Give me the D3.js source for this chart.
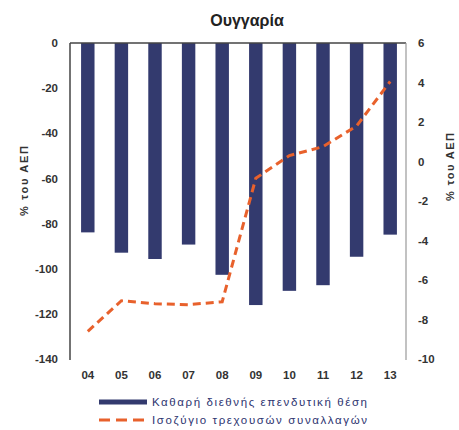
<!DOCTYPE html>
<html><head><meta charset="utf-8">
<script src="https://cdn.jsdelivr.net/npm/d3@7"></script>
<style>body{margin:0;background:#fff}svg{display:block}</style>
</head><body>
<svg id="c" width="459" height="430"></svg>
<script>
const years = ["04","05","06","07","08","09","10","11","12","13"];
const niip = [-83.9,-92.9,-95.7,-89.3,-102.7,-116.1,-109.8,-107.3,-94.7,-84.9];
const currentAccount = [-8.6,-7.05,-7.2,-7.25,-7.1,-0.85,0.3,0.75,1.8,4.05];
const leftTicks = [0,-20,-40,-60,-80,-100,-120,-140];
const rightTicks = [6,4,2,0,-2,-4,-6,-8,-10];
const title = "Ουγγαρία";
const axisLabel = "% του ΑΕΠ";
const legendLabels = ["Καθαρή διεθνής επενδυτική θέση","Ισοζύγιο τρεχουσών συναλλαγών"];

const svg = d3.select("#c");
const L = 70, R = 406, T = 43, B = 359;
const font = "Liberation Sans, Arial, sans-serif";
const barColor = "#333a6e", lineColor = "#e8612c", textColor = "#333";
const fmt = d => String(d);

const x = d3.scaleBand().domain(years).range([L+1, R+1]).paddingInner(0.6).paddingOuter(0.3);
const yL = d3.scaleLinear().domain([-140,0]).range([B,T]);
const yR = d3.scaleLinear().domain([-10,6]).range([B,T]);

svg.append("text").attr("x",247).attr("y",26).attr("text-anchor","middle")
  .attr("font-family",font).attr("font-size",16).attr("font-weight","bold").attr("fill","#222").text(title);

// bars
svg.append("g").selectAll("rect").data(niip).join("rect")
  .attr("x",(d,i)=>x(years[i])).attr("width",x.bandwidth())
  .attr("y",yL(0)).attr("height",d=>yL(d)-yL(0)).attr("fill",barColor);

// frame lines
svg.append("line").attr("x1",L).attr("x2",R).attr("y1",T).attr("y2",T).attr("stroke","#444").attr("stroke-width",1.5);
svg.append("line").attr("x1",L).attr("x2",L).attr("y1",T).attr("y2",B+1).attr("stroke","#444").attr("stroke-width",1.5);
svg.append("line").attr("x1",R).attr("x2",R).attr("y1",T).attr("y2",B+1).attr("stroke","#999").attr("stroke-width",1.2);

// left axis
const gl = svg.append("g").attr("transform",`translate(${L},0)`)
  .call(d3.axisLeft(yL).tickValues(leftTicks).tickFormat(fmt).tickSize(0).tickPadding(12));
gl.select(".domain").remove();
gl.selectAll("text").attr("font-family",font).attr("font-size",11.5).attr("font-weight","bold").attr("fill",textColor);

// right axis
const gr = svg.append("g").attr("transform",`translate(${R},0)`)
  .call(d3.axisRight(yR).tickValues(rightTicks).tickFormat(fmt).tickSize(0).tickPadding(12));
gr.select(".domain").remove();
gr.selectAll("text").attr("font-family",font).attr("font-size",11.5).attr("font-weight","bold").attr("fill",textColor);

// category labels
const gx = svg.append("g").attr("transform",`translate(0,${B})`)
  .call(d3.axisBottom(x).tickSize(0).tickPadding(12));
gx.select(".domain").remove();
gx.selectAll("text").attr("font-family",font).attr("font-size",11.5).attr("font-weight","bold").attr("fill",textColor);

// axis titles
svg.append("text").attr("transform","translate(28,181) rotate(-90)").attr("text-anchor","middle")
  .attr("font-family",font).attr("font-size",11).attr("font-weight","bold").attr("fill",textColor)
  .attr("textLength",70).attr("lengthAdjust","spacing").text(axisLabel);
svg.append("text").attr("transform","translate(454,167) rotate(-90)").attr("text-anchor","middle")
  .attr("font-family",font).attr("font-size",11).attr("font-weight","bold").attr("fill",textColor)
  .attr("textLength",68).attr("lengthAdjust","spacing").text(axisLabel);

// line
const line = d3.line().x((d,i)=>x(years[i])+x.bandwidth()/2).y(d=>yR(d));
svg.append("path").datum(currentAccount).attr("d",line).attr("fill","none")
  .attr("stroke",lineColor).attr("stroke-width",3).attr("stroke-dasharray","8,5");

// legend
const lg = svg.append("g");
lg.append("line").attr("x1",99).attr("x2",147).attr("y1",402).attr("y2",402).attr("stroke",barColor).attr("stroke-width",5);
lg.append("line").attr("x1",99).attr("x2",147).attr("y1",420).attr("y2",420).attr("stroke",lineColor).attr("stroke-width",3).attr("stroke-dasharray","11,6");
legendLabels.forEach((t,i)=>{
  lg.append("text").attr("x",152).attr("y",406+i*18).attr("font-family",font).attr("font-size",11.5)
    .attr("textLength",215).attr("lengthAdjust","spacing").attr("fill","#2d3470").text(t);
});
</script>
</body></html>
